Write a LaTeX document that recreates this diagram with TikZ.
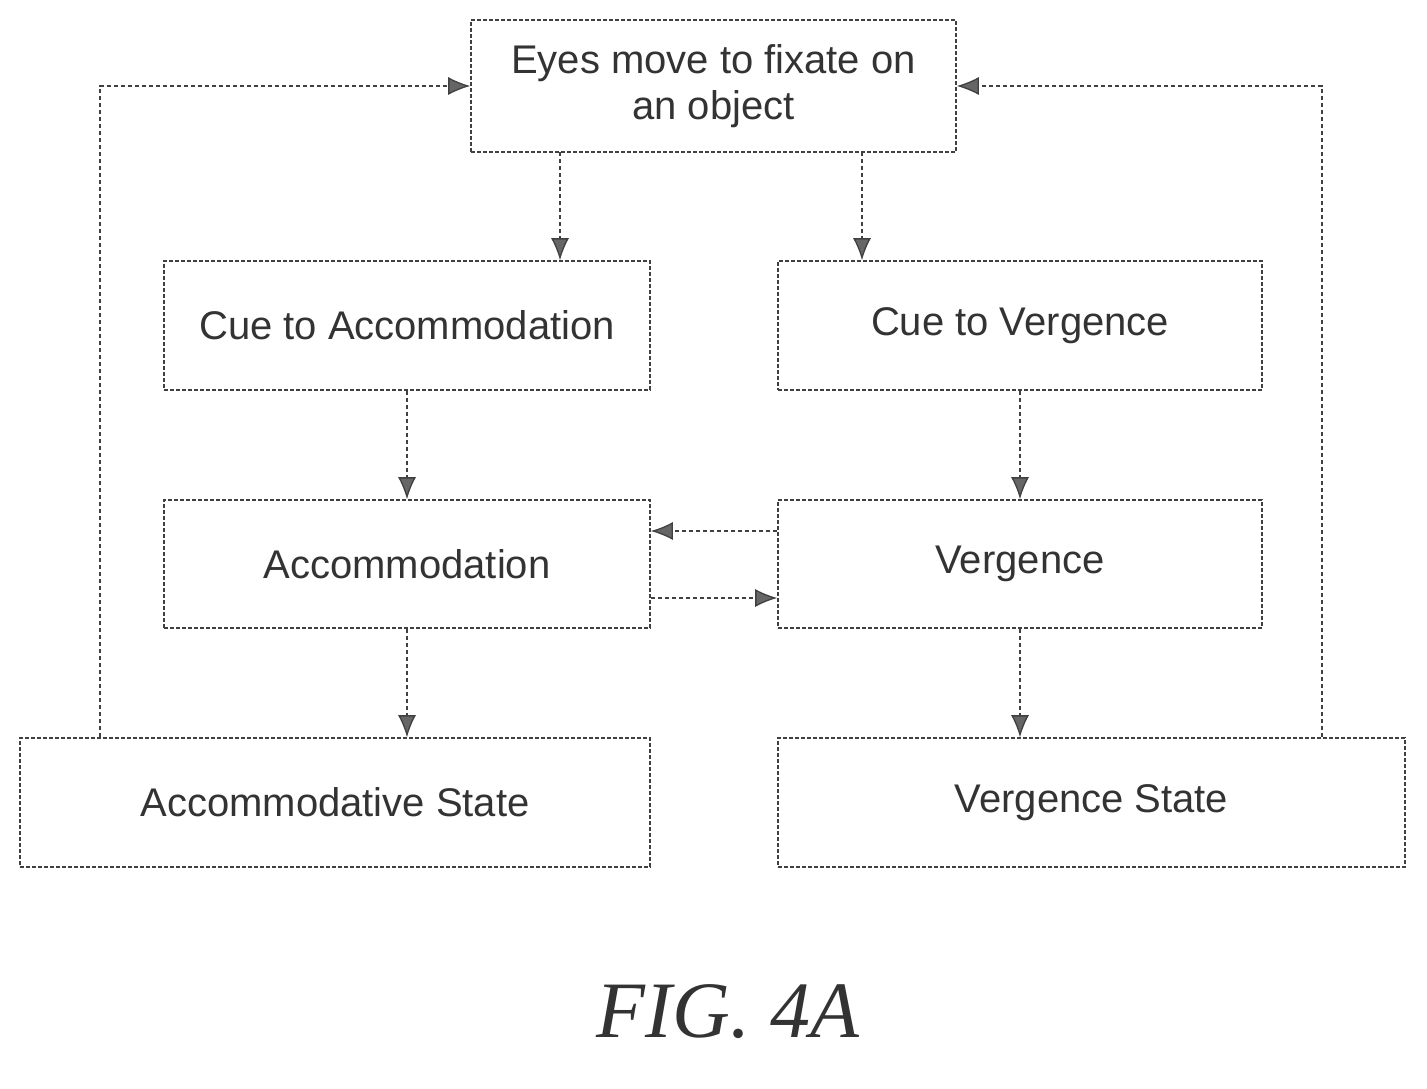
\documentclass[tikz,border=0pt]{standalone}
\usepackage{fontspec}
\setmainfont{Liberation Sans}
\newfontfamily\capfont{Liberation Serif}
\usetikzlibrary{arrows.meta}
\begin{document}
\begin{tikzpicture}[x=1pt,y=-1pt,
  box/.style={draw=black!75,dashed,line width=1.6pt,dash pattern=on 4pt off 2pt,font=\fontsize{40}{46}\selectfont,text=black!80,align=center},
  arr/.style={draw=black!75,line width=1.3pt,dash pattern=on 4pt off 3pt,-{Latex[length=22pt,width=18pt,fill=black!60]}}]
\useasboundingbox (0,0) rectangle (1427,1089);
\node[box,minimum width=485pt,minimum height=132pt] (top) at (713.5,86) {Eyes move to fixate on\\an object};
\node[box,minimum width=486pt,minimum height=129pt] (ca) at (407,325.5) {Cue to Accommodation};
\node[box,minimum width=484pt,minimum height=129pt] (cv) at (1020,325.5) {Cue to Vergence};
\node[box,minimum width=486pt,minimum height=128pt] (a) at (407,564) {Accommodation};
\node[box,minimum width=484pt,minimum height=128pt] (v) at (1020,564) {Vergence};
\node[box,minimum width=630pt,minimum height=129pt] (as) at (335,802.5) {Accommodative State};
\node[box,minimum width=627pt,minimum height=129pt] (vs) at (1091.5,802.5) {Vergence State};
\coordinate (l1) at (100,86); \coordinate (r1) at (1322,86);
\draw[arr] (560,152) -- (ca.north -| 560,0);
\draw[arr] (862,152) -- (cv.north -| 862,0);
\draw[arr] (ca.south) -- (a.north);
\draw[arr] (cv.south) -- (v.north);
\draw[arr] (v.west |- 0,531) -- (a.east |- 0,531);
\draw[arr] (a.east |- 0,598) -- (v.west |- 0,598);
\draw[arr] (a.south) -- (a.south |- as.north);
\draw[arr] (v.south) -- (v.south |- vs.north);
\draw[arr] (as.north -| l1) -- (l1) -- (top.west);
\draw[arr] (vs.north -| r1) -- (r1) -- (top.east);
\node[font=\capfont\itshape\fontsize{80}{90}\selectfont,text=black!80] (cap) at (728,1012) {FIG. 4A};
\end{tikzpicture}
\end{document}
